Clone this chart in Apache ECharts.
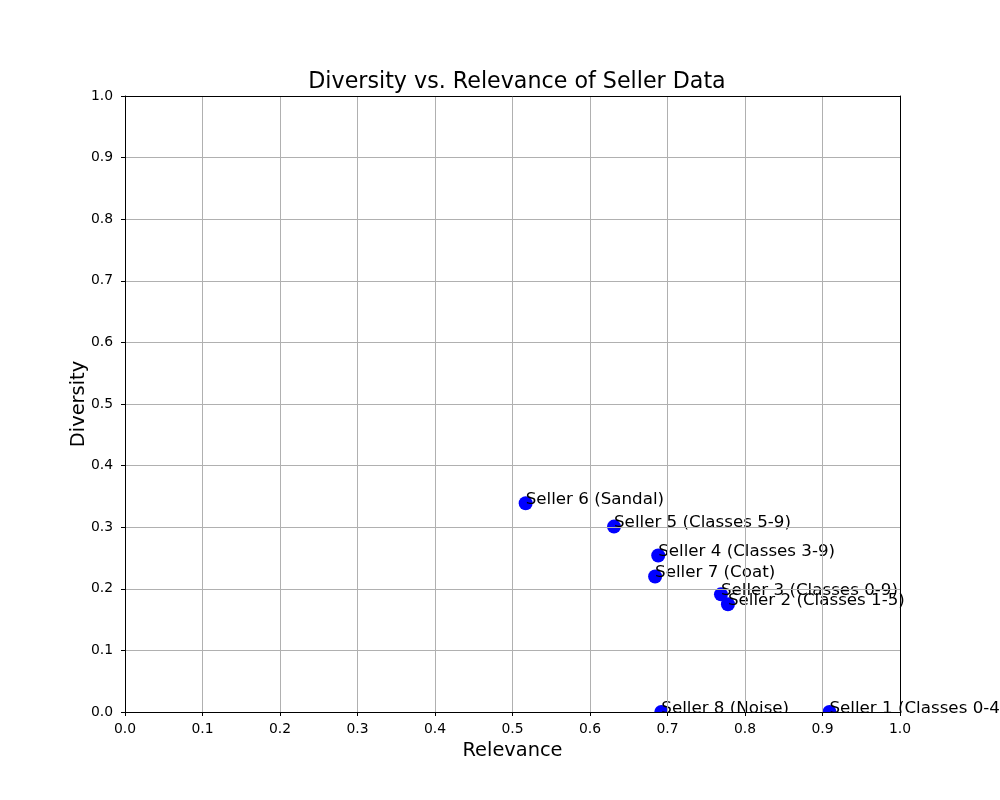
<!DOCTYPE html>
<html>
<head>
<meta charset="utf-8">
<script src="https://cdn.jsdelivr.net/npm/echarts@6/dist/echarts.min.js"></script>
<style>html,body{margin:0;padding:0;background:#fff}#c{width:1000px;height:800px}</style>
</head>
<body>
<div id="c"></div>
<script>
const sellerNames = ['Seller 1 (Classes 0-4)', 'Seller 2 (Classes 1-5)', 'Seller 3 (Classes 0-9)', 'Seller 4 (Classes 3-9)', 'Seller 5 (Classes 5-9)', 'Seller 6 (Sandal)', 'Seller 7 (Coat)', 'Seller 8 (Noise)'];
const relevance = [0.909, 0.778, 0.769, 0.688, 0.631, 0.517, 0.684, 0.692];
const diversity = [0.000, 0.175, 0.191, 0.254, 0.301, 0.339, 0.220, 0.000];
const axisMin = 0, axisMax = 1, axisStep = 0.1;

const FONT = 'DejaVu Sans';
const chart = echarts.init(document.getElementById('c'), null, {renderer: 'canvas'});
const data = sellerNames.map((n, i) => ({name: n, value: [relevance[i], diversity[i]]}));
const labelStyle = {color: '#000', fontFamily: FONT, fontSize: 13.9, formatter: v => v.toFixed(1)};
const axisCommon = {
  type: 'value', min: axisMin, max: axisMax, interval: axisStep,
  axisLine: {show: true, onZero: false, lineStyle: {color: '#000', width: 1}},
  axisTick: {show: true, length: 4, lineStyle: {color: '#000'}},
  splitLine: {show: true, lineStyle: {color: '#b0b0b0', width: 1}},
  nameTextStyle: {color: '#000', fontFamily: FONT, fontSize: 19.4},
  nameLocation: 'middle',
  nameMoveOverlap: false,
  z: 10
};
const frameAxis = {
  type: 'value', min: axisMin, max: axisMax, interval: axisStep,
  axisLine: {show: true, onZero: false, lineStyle: {color: '#000', width: 1}},
  axisTick: {show: false}, axisLabel: {show: false}, splitLine: {show: false},
  z: 10
};
chart.setOption({
  animation: false,
  backgroundColor: '#fff',
  title: {
    text: 'Diversity vs. Relevance of Seller Data',
    left: 512, top: 66, textAlign: 'center',
    textStyle: {fontFamily: FONT, fontSize: 22.2, fontWeight: 'normal', color: '#000'}
  },
  grid: {left: 125, right: 100, top: 96, bottom: 88},
  xAxis: [
    Object.assign({}, axisCommon, {name: 'Relevance', nameGap: 29, position: 'bottom', axisLabel: Object.assign({margin: 10}, labelStyle)}),
    Object.assign({}, frameAxis, {position: 'top'})
  ],
  yAxis: [
    Object.assign({}, axisCommon, {name: 'Diversity', nameGap: 37, position: 'left', axisLabel: Object.assign({margin: 12}, labelStyle)}),
    Object.assign({}, frameAxis, {position: 'right'})
  ],
  series: [{
    type: 'scatter',
    xAxisIndex: 0, yAxisIndex: 0,
    data: data,
    symbol: 'circle',
    symbolSize: 14,
    clip: false,
    itemStyle: {color: '#0000ff', opacity: 1},
    label: {
      show: true,
      formatter: p => p.name,
      position: [7, 12],
      verticalAlign: 'bottom',
      align: 'left',
      color: '#000',
      fontFamily: FONT,
      fontSize: 16.7
    },
    labelLayout: {hideOverlap: false},
    z: 3
  }, {
    // white band just below the plotting area, hiding marker parts outside it (matplotlib clipping)
    type: 'custom',
    xAxisIndex: 0, yAxisIndex: 0,
    data: [[axisMin, axisMin]],
    clip: false,
    silent: true,
    z: 5,
    renderItem: function (params, api) {
      const a = api.coord([axisMin, axisMin]);
      const b = api.coord([axisMax, axisMin]);
      return {
        type: 'rect',
        shape: {x: a[0] - 10, y: a[1] + 0.5, width: b[0] - a[0] + 20, height: 7.5},
        style: {fill: '#fff'}
      };
    }
  }]
});
</script>
</body>
</html>
